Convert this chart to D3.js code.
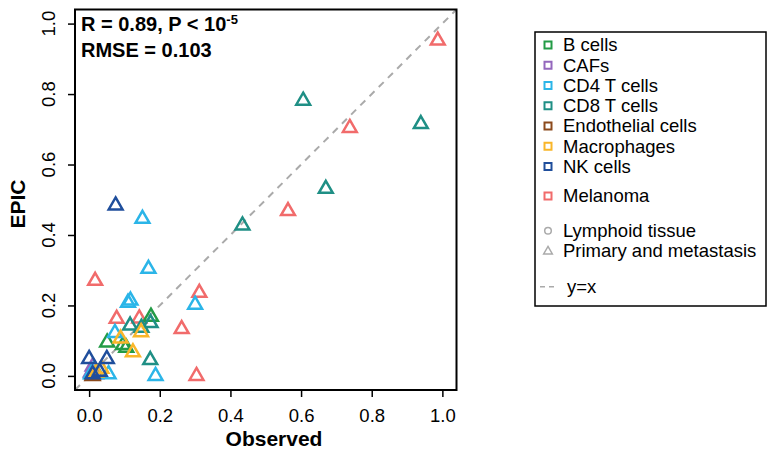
<!DOCTYPE html>
<html>
<head>
<meta charset="utf-8">
<script src="https://cdn.jsdelivr.net/npm/d3@7"></script>
<style>
  body { margin: 0; background: #ffffff; }
  svg { display: block; }
  text { font-family: "Liberation Sans", Arial, Helvetica, sans-serif; fill: #000; }
</style>
</head>
<body>
<svg id="chart" width="771" height="449"></svg>
<script>
// Cell types shown in the legend, with their colours
const cellTypes = ["B cells", "CAFs", "CD4 T cells", "CD8 T cells", "Endothelial cells", "Macrophages", "NK cells", "Melanoma"];
const cellColors = ["#239b46", "#9467bd", "#2bb5e8", "#1f8f85", "#8c4a1c", "#f9b62a", "#1f4e9c", "#f16b6b"];

// Sample types (shape legend)
const sampleTypes = ["Lymphoid tissue", "Primary and metastasis"];

// Observed vs EPIC-estimated cell fractions, one entry per sample/cell type
const pointType = [
  "Melanoma", "Melanoma", "Melanoma", "Melanoma", "Melanoma", "Melanoma", "Melanoma", "Melanoma", "Melanoma",
  "B cells", "B cells", "B cells", "B cells",
  "CAFs", "CAFs", "CAFs",
  "CD4 T cells", "CD4 T cells", "CD4 T cells", "CD4 T cells", "CD4 T cells", "CD4 T cells", "CD4 T cells", "CD4 T cells", "CD4 T cells", "CD4 T cells",
  "CD8 T cells", "CD8 T cells", "CD8 T cells", "CD8 T cells", "CD8 T cells", "CD8 T cells", "CD8 T cells", "CD8 T cells", "CD8 T cells",
  "Endothelial cells",
  "Macrophages", "Macrophages", "Macrophages", "Macrophages", "Macrophages",
  "NK cells", "NK cells", "NK cells", "NK cells", "NK cells"
];
const observedFraction = [
  0.987, 0.738, 0.563, 0.017, 0.312, 0.078, 0.142, 0.262, 0.304,
  0.175, 0.051, 0.096, 0.105,
  0.010, 0.005, 0.020,
  0.151, 0.168, 0.110, 0.117, 0.300, 0.073, 0.188, 0.005, 0.055, 0.015,
  0.606, 0.939, 0.670, 0.434, 0.174, 0.116, 0.148, 0.173, 0.020,
  0.010,
  0.147, 0.089, 0.124, 0.035, 0.020,
  0.075, 0.000, 0.050, 0.030, 0.010
];
const epicFraction = [
  0.952, 0.704, 0.468, 0.270, 0.236, 0.162, 0.163, 0.133, 0.000,
  0.168, 0.095, 0.088, 0.080,
  0.027, 0.010, 0.005,
  0.446, 0.304, 0.208, 0.214, 0.202, 0.122, 0.000, 0.005, 0.005, 0.020,
  0.781, 0.715, 0.531, 0.427, 0.150, 0.143, 0.137, 0.045, 0.010,
  0.000,
  0.124, 0.106, 0.067, 0.020, 0.010,
  0.484, 0.048, 0.048, 0.012, 0.005
];

const tickValues = [0, 0.2, 0.4, 0.6, 0.8, 1.0];
const tickLabels = ["0.0", "0.2", "0.4", "0.6", "0.8", "1.0"];

const statLine1 = "R = 0.89, P < 10";
const statExponent = "-5";
const statLine2 = "RMSE = 0.103";
const xTitle = "Observed";
const yTitle = "EPIC";
const refLineLabel = "y=x";

const svg = d3.select("#chart");
const plot = { left: 75, right: 456.5, top: 9.5, bottom: 390 };

const x = d3.scaleLinear().domain([-0.04, 1.04]).range([plot.left, plot.right]);
const y = d3.scaleLinear().domain([-0.04, 1.04]).range([plot.bottom, plot.top]);
const color = d3.scaleOrdinal().domain(cellTypes).range(cellColors);

// clip for the data region
svg.append("defs").append("clipPath").attr("id", "plotClip")
  .append("rect")
  .attr("x", plot.left).attr("y", plot.top)
  .attr("width", plot.right - plot.left).attr("height", plot.bottom - plot.top);

// y = x reference line
svg.append("line")
  .attr("clip-path", "url(#plotClip)")
  .attr("x1", x(-0.04)).attr("y1", y(-0.04))
  .attr("x2", x(1.04)).attr("y2", y(1.04))
  .attr("stroke", "#aaaaaa").attr("stroke-width", 2)
  .attr("stroke-dasharray", "7,6");

// triangle marker centred on its centroid (circumradius r)
function trianglePath(r) {
  const h = r / 2, w = r * Math.sqrt(3) / 2;
  return `M0,${-r}L${w},${h}L${-w},${h}Z`;
}

const points = pointType.map((t, i) => ({ type: t, obs: observedFraction[i], est: epicFraction[i] }));

svg.append("g").attr("clip-path", "url(#plotClip)")
  .selectAll("path")
  .data(points)
  .join("path")
  .attr("d", trianglePath(8))
  .attr("transform", d => `translate(${x(d.obs)},${y(d.est)})`)
  .attr("fill", "none")
  .attr("stroke", d => color(d.type))
  .attr("stroke-width", 2.5)
  .attr("stroke-linejoin", "miter");

// x axis
const xAxis = svg.append("g")
  .attr("transform", `translate(0,${plot.bottom})`)
  .call(d3.axisBottom(x).tickValues(tickValues).tickFormat((d, i) => tickLabels[i]).tickSize(7).tickPadding(12));
xAxis.select(".domain").remove();
xAxis.selectAll("line").attr("stroke", "#000").attr("stroke-width", 1.5);
xAxis.selectAll("text").attr("font-size", 18.5).attr("font-family", "Liberation Sans, Arial, sans-serif").attr("fill", "#000");

// y axis (labels rotated, parallel to the axis)
const yAxis = svg.append("g")
  .attr("transform", `translate(${plot.left},0)`)
  .call(d3.axisLeft(y).tickValues(tickValues).tickFormat("").tickSize(7));
yAxis.select(".domain").remove();
yAxis.selectAll("line").attr("stroke", "#000").attr("stroke-width", 1.5);
svg.append("g").selectAll("text")
  .data(tickValues)
  .join("text")
  .attr("transform", (d) => `translate(54.5,${y(d)}) rotate(-90)`)
  .attr("text-anchor", "middle")
  .attr("font-size", 18.5)
  .text((d, i) => tickLabels[i]);

// plot frame
svg.append("rect")
  .attr("x", plot.left).attr("y", plot.top)
  .attr("width", plot.right - plot.left).attr("height", plot.bottom - plot.top)
  .attr("fill", "none").attr("stroke", "#000").attr("stroke-width", 2);

// axis titles
svg.append("text")
  .attr("x", 274).attr("y", 446)
  .attr("text-anchor", "middle").attr("font-size", 21).attr("font-weight", "bold")
  .text(xTitle);
svg.append("text")
  .attr("transform", "translate(25,204) rotate(-90)")
  .attr("text-anchor", "middle").attr("font-size", 21).attr("font-weight", "bold")
  .text(yTitle);

// correlation statistics
const stat1 = svg.append("text")
  .attr("x", 81).attr("y", 30.5)
  .attr("font-size", 20).attr("font-weight", "bold");
stat1.append("tspan").text(statLine1);
stat1.append("tspan").attr("dy", -7).attr("font-size", 13).text(statExponent);
svg.append("text")
  .attr("x", 81).attr("y", 57)
  .attr("font-size", 20).attr("font-weight", "bold")
  .text(statLine2);

// legend
const legend = svg.append("g");
legend.append("rect")
  .attr("x", 535).attr("y", 32).attr("width", 231).attr("height", 274)
  .attr("fill", "none").attr("stroke", "#000").attr("stroke-width", 1.5);

const rowY = cellTypes.map((c, i) => i < 7 ? 45 + i * 20.25 : 196);
const markX = 548, textX = 563;

cellTypes.forEach((c, i) => {
  legend.append("rect")
    .attr("x", markX - 3.5).attr("y", rowY[i] - 3.5)
    .attr("width", 7).attr("height", 7)
    .attr("fill", "none").attr("stroke", color(c)).attr("stroke-width", 2);
  legend.append("text")
    .attr("x", textX).attr("y", rowY[i]).attr("dy", "0.35em")
    .attr("font-size", 18.5).text(c);
});

const shapeY = [230.7, 250.9];
legend.append("circle")
  .attr("cx", markX).attr("cy", shapeY[0]).attr("r", 3.3)
  .attr("fill", "none").attr("stroke", "#aaaaaa").attr("stroke-width", 1.5);
legend.append("path")
  .attr("d", trianglePath(5))
  .attr("transform", `translate(${markX},${shapeY[1] + 0.5})`)
  .attr("fill", "none").attr("stroke", "#aaaaaa").attr("stroke-width", 1.5);
sampleTypes.forEach((s, i) => {
  legend.append("text")
    .attr("x", textX).attr("y", shapeY[i]).attr("dy", "0.35em")
    .attr("font-size", 18.5).text(s);
});

legend.append("line")
  .attr("x1", 540).attr("x2", 557).attr("y1", 286.7).attr("y2", 286.7)
  .attr("stroke", "#aaaaaa").attr("stroke-width", 1.5).attr("stroke-dasharray", "5,4");
legend.append("text")
  .attr("x", textX + 4).attr("y", 286.7).attr("dy", "0.35em")
  .attr("font-size", 18.5).text(refLineLabel);
</script>
</body>
</html>
